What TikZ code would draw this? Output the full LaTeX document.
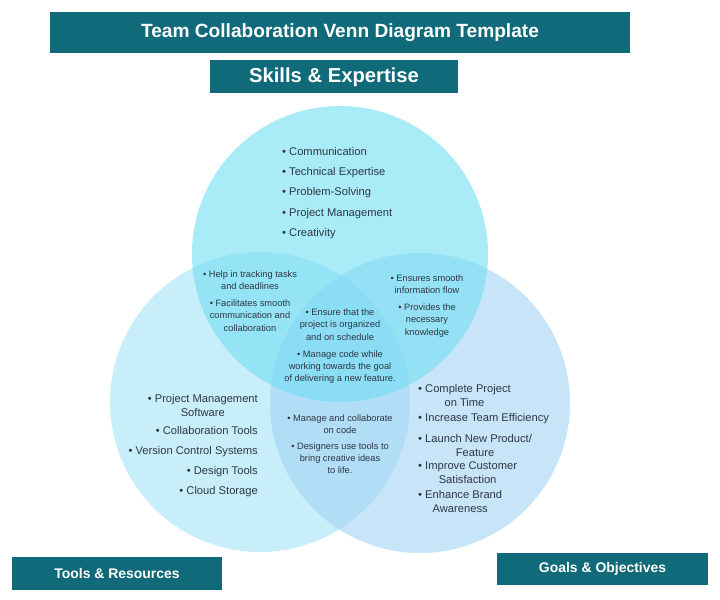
\documentclass[tikz,border=0pt]{standalone}
\usepackage{fontspec}
\setmainfont{Liberation Sans}
\usetikzlibrary{positioning}

\definecolor{bannerteal}{RGB}{16,106,122}
\definecolor{inktext}{RGB}{45,55,68}
\definecolor{ctop}{RGB}{113,222,243}
\definecolor{cleft}{RGB}{163,227,247}
\definecolor{cright}{RGB}{163,210,243}
\newcommand\setfs[2]{\fontsize{#1}{#2}\selectfont}

\begin{document}
\begin{tikzpicture}[
  x=1bp, y=-1bp,
  banner/.style={fill=bannerteal, text=white, inner sep=0pt},
  outer/.style={text=inktext, inner sep=0pt, align=center, font=\setfs{11.2}{14}},
  inner/.style={text=inktext, inner sep=0pt, align=center, font=\setfs{9.3}{12.3}}
]
\useasboundingbox (0,0) rectangle (720,600);

% the three sets
\fill[cleft, opacity=.6] (260,402) circle (150);
\fill[cright, opacity=.6] (420,403) circle (150);
\fill[ctop, opacity=.6] (340,254) circle (148);

% headings
\node[banner, minimum width=580bp, minimum height=41bp, font=\bfseries\setfs{19.2}{23}] (title) at (340,32.5) {Team Collaboration Venn Diagram Template};
\node[banner, minimum width=248bp, minimum height=33bp, font=\bfseries\setfs{20.3}{24}, below=7bp of title, xshift=-6bp] (skills) {Skills \& Expertise};
\node[banner, minimum width=210bp, minimum height=33bp, font=\bfseries\setfs{14}{17}] (tools) at (117,573.5) {Tools \& Resources};
\node[banner, minimum width=211bp, minimum height=32bp, font=\bfseries\setfs{14}{17}] (goals) at (602.5,569) {Goals \& Objectives};

% skills only
\node[outer, align=left, anchor=north west, font=\setfs{11.2}{20.5}] (skilllist) at (282,146.8)
  {• Communication\\• Technical Expertise\\• Problem-Solving\\• Project Management\\• Creativity};

% overlaps
\node[inner, anchor=north] (skilltool) at (250,270.6)
  {• Help in tracking tasks\\and deadlines\\[4.5pt]• Facilitates smooth\\communication and\\collaboration};
\node[inner, anchor=north] (skillgoal) at (427,274.6)
  {• Ensures smooth\\information flow\\[4.5pt]• Provides the\\necessary\\knowledge};
\node[inner, anchor=north] (allthree) at (340,308.6)
  {• Ensure that the\\project is organized\\and on schedule\\[5pt]• Manage code while\\working towards the goal\\of delivering a new feature.};
\node[inner, anchor=north] (toolgoal) at (340,414.6)
  {• Manage and collaborate\\on code\\[3pt]• Designers use tools to\\bring creative ideas\\to life.};

% tools only
\node[outer, anchor=north east] (tool1) at (258,393.8) {• Project Management\\Software};
\node[outer, anchor=north east] (tool2) at (258,425.8) {• Collaboration Tools};
\node[outer, anchor=north east] (tool3) at (258,445.8) {• Version Control Systems};
\node[outer, anchor=north east] (tool4) at (258,465.8) {• Design Tools};
\node[outer, anchor=north east] (tool5) at (258,485.8) {• Cloud Storage};

% goals only
\node[outer, anchor=north west] (goal1) at (418,383.8) {• Complete Project\\on Time};
\node[outer, anchor=north west] (goal2) at (418,412.8) {• Increase Team Efficiency};
\node[outer, anchor=north west] (goal3) at (418,433.8) {• Launch New Product/\\Feature};
\node[outer, anchor=north west] (goal4) at (418,461.8) {• Improve Customer\\Satisfaction};
\node[outer, anchor=north west] (goal5) at (418,489.8) {• Enhance Brand\\Awareness};
\end{tikzpicture}
\end{document}
